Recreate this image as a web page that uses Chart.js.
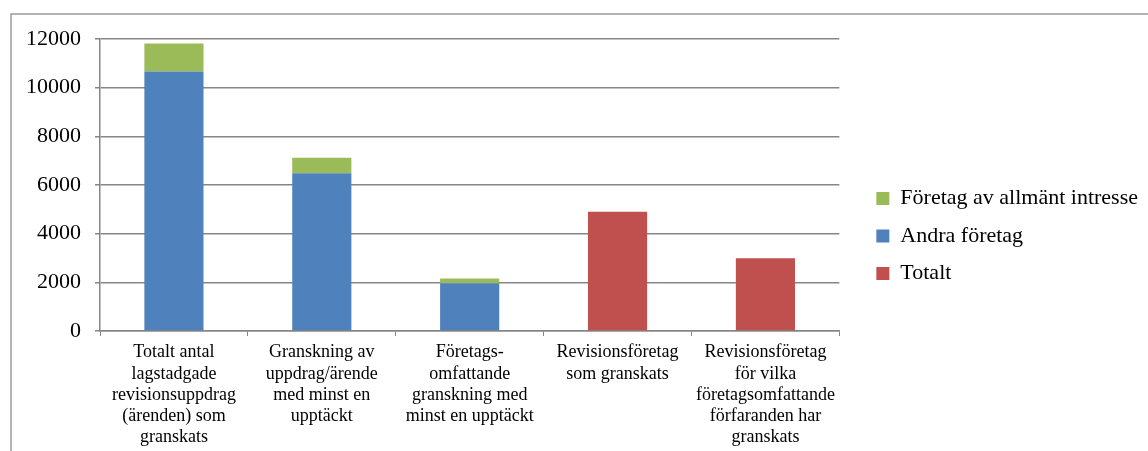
<!DOCTYPE html>
<html><head><meta charset="utf-8">
<script src="https://cdn.jsdelivr.net/npm/chart.js@4.4.1/dist/chart.umd.min.js"></script>
<style>html,body{margin:0;padding:0;background:#fff}#wrap{width:1148px;height:451px;position:relative}</style>
</head><body><div id="wrap"><canvas id="c" width="1148" height="451"></canvas></div>
<script>
const categories = [
  ["Totalt antal","lagstadgade","revisionsuppdrag","(ärenden) som","granskats"],
  ["Granskning av","uppdrag/ärende","med minst en","upptäckt"],
  ["Företags-","omfattande","granskning med","minst en upptäckt"],
  ["Revisionsföretag","som granskats"],
  ["Revisionsföretag","för vilka","företagsomfattande","förfaranden har","granskats"]
];
const andraForetag = [10660, 6480, 1960, null, null];
const allmantIntresse = [1160, 640, 200, null, null];
const totalt = [null, null, null, 4900, 2990];
const yTicks = [0, 2000, 4000, 6000, 8000, 10000, 12000];
const legendOrder = ["Företag av allmänt intresse", "Andra företag", "Totalt"];

const frame = {
  id: 'frame',
  beforeDraw(chart) {
    const ctx = chart.ctx;
    ctx.save();
    ctx.fillStyle = '#fff';
    ctx.fillRect(0, 0, chart.width, chart.height);
    ctx.strokeStyle = '#9a9a9a';
    ctx.lineWidth = 1.5;
    ctx.strokeRect(11, 14, chart.width + 20, chart.height + 20);
    ctx.restore();
  }
};
const LEGEND_WIDTH = 300;
const legendWidthFix = {
  id: 'legendWidthFix',
  beforeLayout(chart) {
    const lg = chart.legend;
    if (lg && !lg._wrapped) {
      const u = lg.update;
      lg.update = function (mw, mh, m) { return u.call(this, LEGEND_WIDTH, mh, m); };
      lg._wrapped = true;
    }
  },
  afterLayout(chart) {
    if (chart.legend) chart.legend.bottom = chart.height - 18;
  }
};

const serif = "'Liberation Serif', 'Times New Roman', serif";
new Chart(document.getElementById('c'), {
  type: 'bar',
  data: {
    labels: categories,
    datasets: [
      { label: 'Andra företag', data: andraForetag, backgroundColor: '#4f81bd' },
      { label: 'Företag av allmänt intresse', data: allmantIntresse, backgroundColor: '#9bbb59' },
      { label: 'Totalt', data: totalt, backgroundColor: '#c0504d' }
    ]
  },
  options: {
    responsive: false,
    animation: false,
    devicePixelRatio: 1,
    layout: { padding: { top: 39, left: 0, right: 0, bottom: 0 } },
    datasets: { bar: { categoryPercentage: 1, barPercentage: 0.4, skipNull: false } },
    plugins: {
      tooltip: { enabled: false },
      legend: {
        position: 'right',
        align: 'center',
        labels: {
          color: '#000',
          font: { family: serif, size: 22 },
          boxWidth: 13, boxHeight: 13, padding: 15.5,
          sort: (a, b) => legendOrder.indexOf(a.text) - legendOrder.indexOf(b.text)
        }
      }
    },
    scales: {
      x: {
        stacked: true,
        afterFit: (axis) => { axis.height = 120; },
        grid: { offset: true, drawOnChartArea: false, drawTicks: true, tickLength: 5, color: '#868686' },
        border: { color: '#868686', width: 1.5 },
        ticks: { color: '#000', font: { family: serif, size: 18, lineHeight: 1.18 }, maxRotation: 0, autoSkip: false, padding: 6 }
      },
      y: {
        stacked: true,
        min: 0, max: 12000,
        afterFit: (axis) => { axis.width = 100; },
        afterBuildTicks: (axis) => { axis.ticks = yTicks.map(v => ({ value: v })); },
        grid: { color: '#868686', lineWidth: 1.5, tickLength: 5 },
        border: { color: '#868686', width: 1.5 },
        ticks: { color: '#000', font: { family: serif, size: 22 }, padding: 14, callback: (v) => String(v) }
      },
      yRight: {
        position: 'right',
        display: true,
        afterFit: (axis) => { axis.width = 21.5; },
        grid: { display: false, drawTicks: false },
        border: { display: false },
        ticks: { display: false }
      }
    }
  },
  plugins: [frame, legendWidthFix]
});
</script></body></html>
